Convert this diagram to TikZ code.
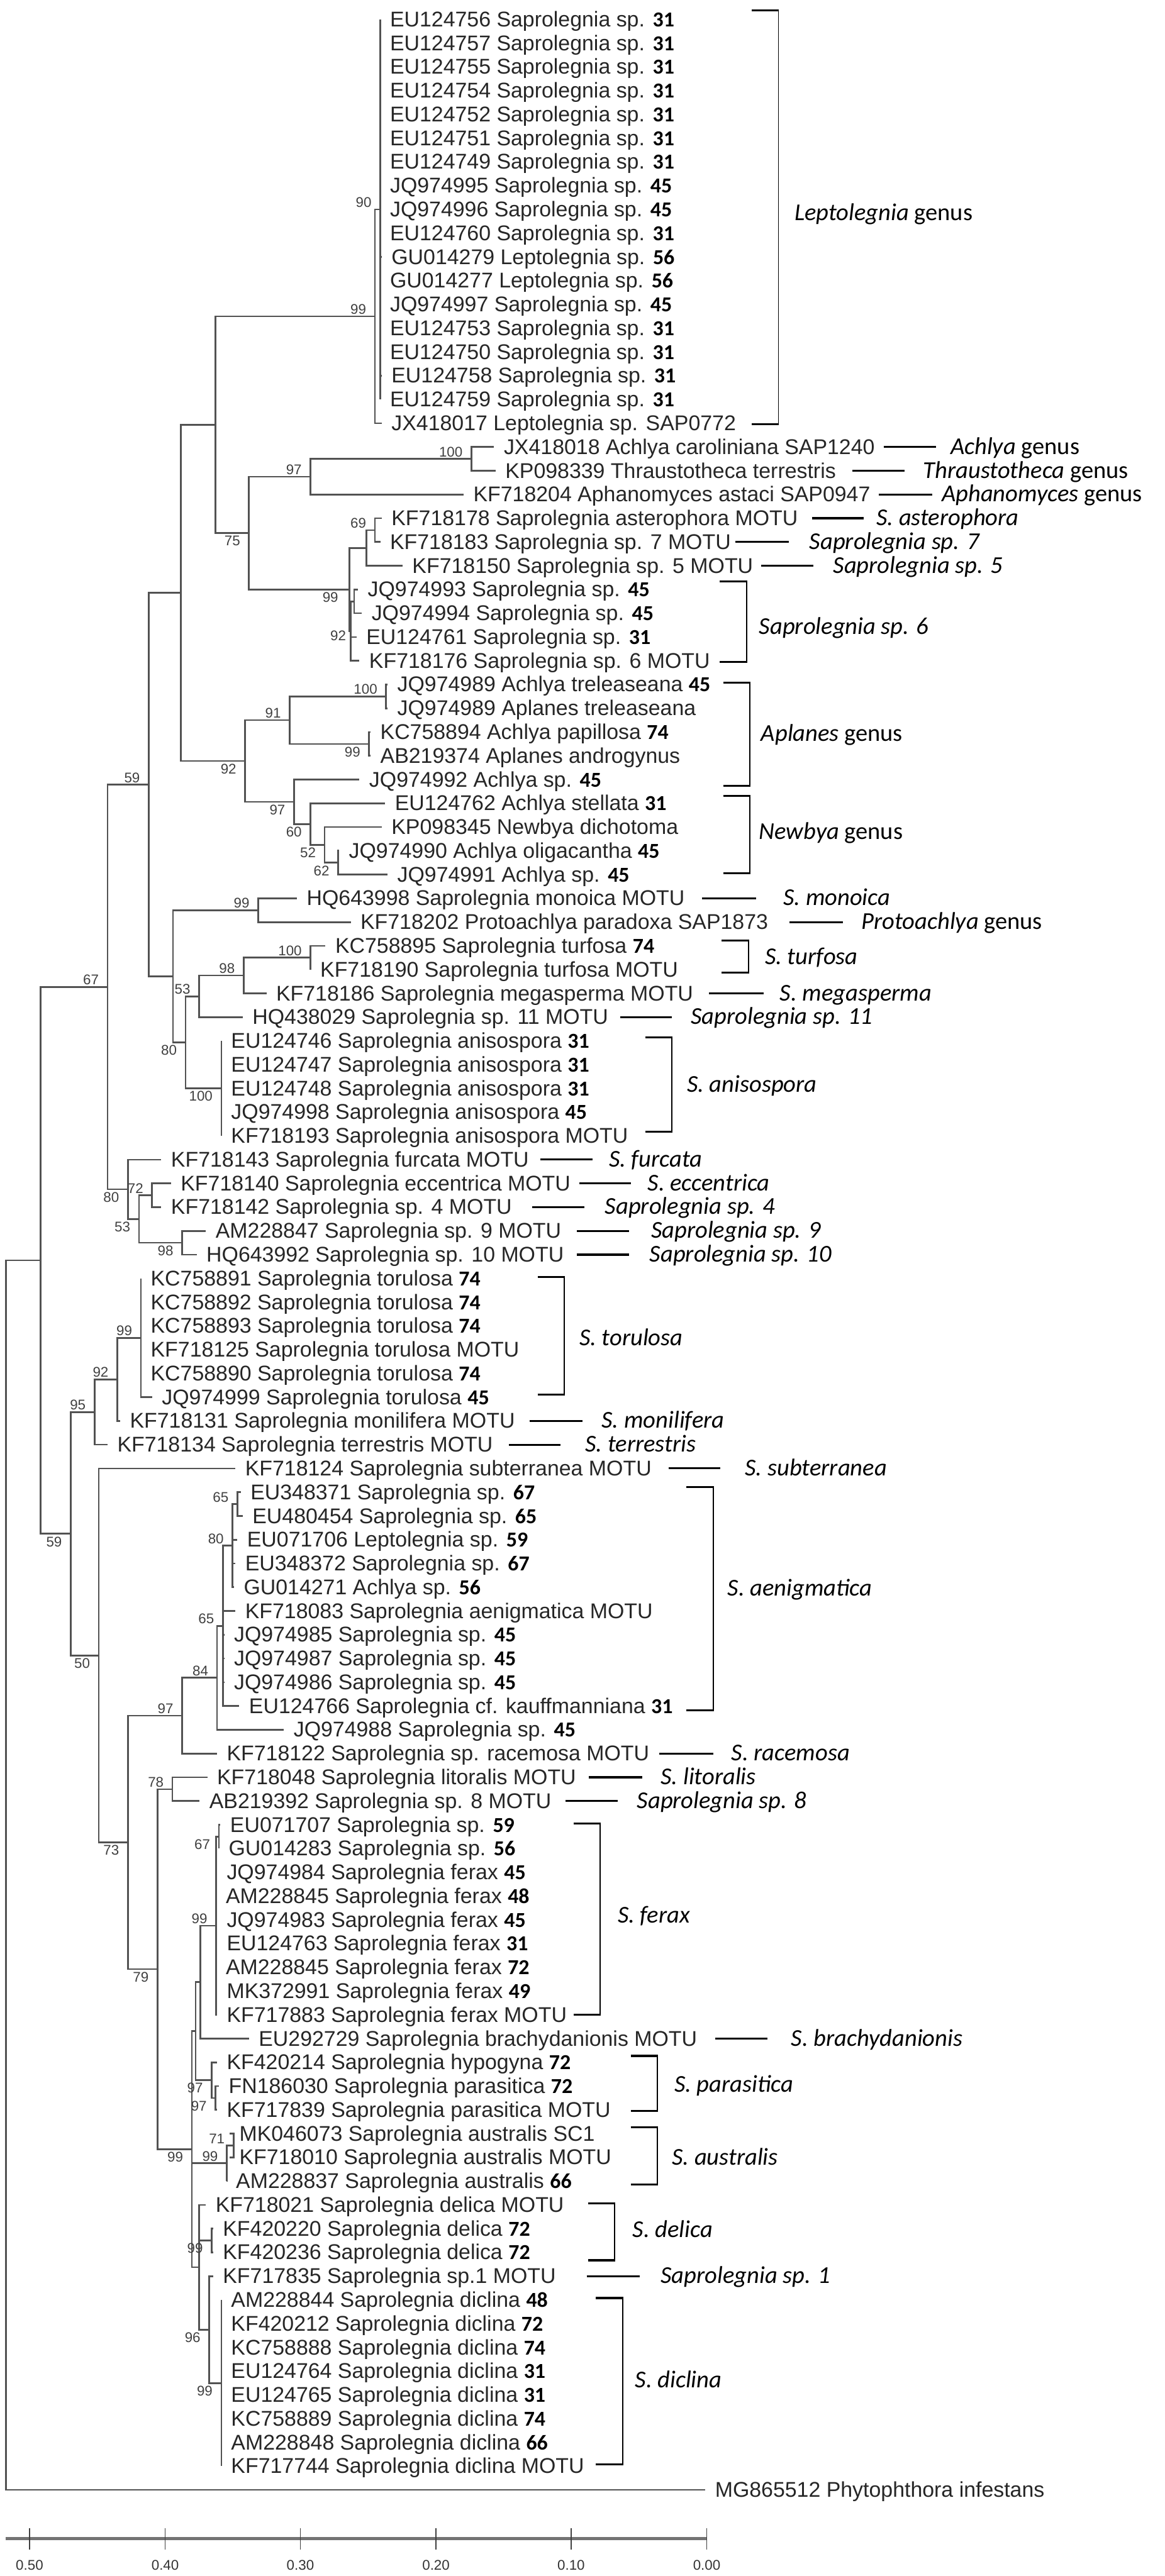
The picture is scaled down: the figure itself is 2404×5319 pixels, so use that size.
\documentclass[tikz,border=0pt]{standalone}
\usepackage{fontspec}
\setmainfont{Liberation Sans}
\newfontfamily\calfont{Carlito}
\usetikzlibrary{calc}
\newcommand\leaffont{\fontsize{44}{50}\selectfont}
\newcommand\bsfont{\fontsize{29}{32}\selectfont}
\newcommand\clfont{\calfont\fontsize{50}{56}\selectfont}
\newcommand\nb[1]{{\calfont\bfseries\color{black}#1}}
\tikzset{
 leaf/.style={anchor=west, inner sep=0pt, font=\leaffont, text=black!85, text height=31pt, text depth=1pt},
 brn/.style={line width=3.5pt, draw=black!68},
 bsA/.style={anchor=south east, inner sep=0pt, font=\bsfont, text=black!75, xshift=-18pt, yshift=4pt},
 bsB/.style={anchor=north east, inner sep=0pt, font=\bsfont, text=black!75, xshift=-18pt, yshift=-6pt},
 bsC/.style={anchor=center, inner sep=0pt, font=\bsfont, text=black!75},
 clk/.style={line width=4pt, draw=black},
 clv/.style={line width=2.5pt, draw=black},
 clab/.style={anchor=west, inner sep=0pt, font=\clfont, text=black, text height=30pt, text depth=0pt},
 sclbar/.style={line width=7pt, draw=black!55},
 scltick/.style={line width=2pt, draw=black!75},
 scllab/.style={anchor=center, inner sep=0pt, font=\bsfont, text=black!80}
}
\newcommand\myleaf[3]{\coordinate (t#1) at (#2,{40+(#1-1)*49.05});
  \node[leaf] (l#1) at ([xshift=20pt]t#1) {#3};}
\newcommand\mynode[4]{\path ($(#3)!0.5!(#4)$) coordinate (#1m);
  \coordinate (#1) at (#2,0 |- #1m);}
\newcommand\mycl[2]{\foreach \kid in {#2}{\draw[brn] (#1) |- (\kid);}}
\newcommand\bsAbove[2]{\node[bsA] (b#1) at (#1) {#2};}
\newcommand\bsBelow[2]{\node[bsB] (b#1) at (#1) {#2};}
\newcommand\mycln[5]{\coordinate (c#1a) at (#2,0 |- t#1);
  \coordinate (c#1b) at (#3,0 |- t#1);
  \draw[clk] (c#1a) -- (c#1b);
  \node[clab] (g#1) at (#4,0 |- t#1) {#5};}
\newcommand\mybrk[7]{\coordinate (#1t) at (#2,#3); \coordinate (#1b) at (#2,#4);
  \draw[clv] (#1t) -- (#1b);
  \draw[clk] ([xshift=-55pt]#1t) -- ([xshift=1.25pt]#1t);
  \draw[clk] ([xshift=-55pt]#1b) -- ([xshift=1.25pt]#1b);
  \node[clab] (#1l) at (#5,#6) {#7};}
\begin{document}
\begin{tikzpicture}[x=1pt,y=-1pt]
\useasboundingbox (0,0) rectangle (2404,5319);
% ---------------- leaves ----------------
\myleaf{1}{785}{EU124756 Saprolegnia sp. \nb{31}}
\myleaf{2}{785}{EU124757 Saprolegnia sp. \nb{31}}
\myleaf{3}{785}{EU124755 Saprolegnia sp. \nb{31}}
\myleaf{4}{785}{EU124754 Saprolegnia sp. \nb{31}}
\myleaf{5}{785}{EU124752 Saprolegnia sp. \nb{31}}
\myleaf{6}{785}{EU124751 Saprolegnia sp. \nb{31}}
\myleaf{7}{785}{EU124749 Saprolegnia sp. \nb{31}}
\myleaf{8}{785}{JQ974995 Saprolegnia sp. \nb{45}}
\myleaf{9}{785}{JQ974996 Saprolegnia sp. \nb{45}}
\myleaf{10}{785}{EU124760 Saprolegnia sp. \nb{31}}
\myleaf{11}{788}{GU014279 Leptolegnia sp. \nb{56}}
\myleaf{12}{785}{GU014277 Leptolegnia sp. \nb{56}}
\myleaf{13}{785}{JQ974997 Saprolegnia sp. \nb{45}}
\myleaf{14}{785}{EU124753 Saprolegnia sp. \nb{31}}
\myleaf{15}{785}{EU124750 Saprolegnia sp. \nb{31}}
\myleaf{16}{788}{EU124758 Saprolegnia sp. \nb{31}}
\myleaf{17}{785}{EU124759 Saprolegnia sp. \nb{31}}
\myleaf{18}{788}{JX418017 Leptolegnia sp. SAP0772}
\myleaf{19}{1020}{JX418018 Achlya caroliniana SAP1240}
\myleaf{20}{1023}{KP098339 Thraustotheca terrestris}
\myleaf{21}{957}{KF718204 Aphanomyces astaci SAP0947}
\myleaf{22}{788}{KF718178 Saprolegnia asterophora MOTU}
\myleaf{23}{785}{KF718183 Saprolegnia sp. 7 MOTU}
\myleaf{24}{831}{KF718150 Saprolegnia sp. 5 MOTU}
\myleaf{25}{739}{JQ974993 Saprolegnia sp. \nb{45}}
\myleaf{26}{747}{JQ974994 Saprolegnia sp. \nb{45}}
\myleaf{27}{736}{EU124761 Saprolegnia sp. \nb{31}}
\myleaf{28}{742}{KF718176 Saprolegnia sp. 6 MOTU}
\myleaf{29}{800}{JQ974989 Achlya treleaseana \nb{45}}
\myleaf{30}{800}{JQ974989 Aplanes treleaseana}
\myleaf{31}{765}{KC758894 Achlya papillosa \nb{74}}
\myleaf{32}{765}{AB219374 Aplanes androgynus}
\myleaf{33}{742}{JQ974992 Achlya sp. \nb{45}}
\myleaf{34}{795}{EU124762 Achlya stellata \nb{31}}
\myleaf{35}{788}{KP098345 Newbya dichotoma}
\myleaf{36}{700}{JQ974990 Achlya oligacantha \nb{45}}
\myleaf{37}{800}{JQ974991 Achlya sp. \nb{45}}
\myleaf{38}{613}{HQ643998 Saprolegnia monoica MOTU}
\myleaf{39}{724}{KF718202 Protoachlya paradoxa SAP1873}
\myleaf{40}{672}{KC758895 Saprolegnia turfosa \nb{74}}
\myleaf{41}{641}{KF718190 Saprolegnia turfosa MOTU}
\myleaf{42}{550}{KF718186 Saprolegnia megasperma MOTU}
\myleaf{43}{501}{HQ438029 Saprolegnia sp. 11 MOTU}
\myleaf{44}{457}{EU124746 Saprolegnia anisospora \nb{31}}
\myleaf{45}{457}{EU124747 Saprolegnia anisospora \nb{31}}
\myleaf{46}{457}{EU124748 Saprolegnia anisospora \nb{31}}
\myleaf{47}{457}{JQ974998 Saprolegnia anisospora \nb{45}}
\myleaf{48}{457}{KF718193 Saprolegnia anisospora MOTU}
\myleaf{49}{333}{KF718143 Saprolegnia furcata MOTU}
\myleaf{50}{353}{KF718140 Saprolegnia eccentrica MOTU}
\myleaf{51}{333}{KF718142 Saprolegnia sp. 4 MOTU}
\myleaf{52}{425}{AM228847 Saprolegnia sp. 9 MOTU}
\myleaf{53}{406}{HQ643992 Saprolegnia sp. 10 MOTU}
\myleaf{54}{291}{KC758891 Saprolegnia torulosa \nb{74}}
\myleaf{55}{291}{KC758892 Saprolegnia torulosa \nb{74}}
\myleaf{56}{291}{KC758893 Saprolegnia torulosa \nb{74}}
\myleaf{57}{291}{KF718125 Saprolegnia torulosa MOTU}
\myleaf{58}{291}{KC758890 Saprolegnia torulosa \nb{74}}
\myleaf{59}{314}{JQ974999 Saprolegnia torulosa \nb{45}}
\myleaf{60}{248}{KF718131 Saprolegnia monilifera MOTU}
\myleaf{61}{222}{KF718134 Saprolegnia terrestris MOTU}
\myleaf{62}{486}{KF718124 Saprolegnia subterranea MOTU}
\myleaf{63}{497}{EU348371 Saprolegnia sp. \nb{67}}
\myleaf{64}{501}{EU480454 Saprolegnia sp. \nb{65}}
\myleaf{65}{490}{EU071706 Leptolegnia sp. \nb{59}}
\myleaf{66}{486}{EU348372 Saprolegnia sp. \nb{67}}
\myleaf{67}{483}{GU014271 Achlya sp. \nb{56}}
\myleaf{68}{486}{KF718083 Saprolegnia aenigmatica MOTU}
\myleaf{69}{463}{JQ974985 Saprolegnia sp. \nb{45}}
\myleaf{70}{463}{JQ974987 Saprolegnia sp. \nb{45}}
\myleaf{71}{463}{JQ974986 Saprolegnia sp. \nb{45}}
\myleaf{72}{494}{EU124766 Saprolegnia cf. kauffmanniana \nb{31}}
\myleaf{73}{586}{JQ974988 Saprolegnia sp. \nb{45}}
\myleaf{74}{448}{KF718122 Saprolegnia sp. racemosa MOTU}
\myleaf{75}{428}{KF718048 Saprolegnia litoralis MOTU}
\myleaf{76}{412}{AB219392 Saprolegnia sp. 8 MOTU}
\myleaf{77}{455}{EU071707 Saprolegnia sp. \nb{59}}
\myleaf{78}{452}{GU014283 Saprolegnia sp. \nb{56}}
\myleaf{79}{448}{JQ974984 Saprolegnia ferax \nb{45}}
\myleaf{80}{446}{AM228845 Saprolegnia ferax \nb{48}}
\myleaf{81}{448}{JQ974983 Saprolegnia ferax \nb{45}}
\myleaf{82}{448}{EU124763 Saprolegnia ferax \nb{31}}
\myleaf{83}{446}{AM228845 Saprolegnia ferax \nb{72}}
\myleaf{84}{448}{MK372991 Saprolegnia ferax \nb{49}}
\myleaf{85}{448}{KF717883 Saprolegnia ferax MOTU}
\myleaf{86}{514}{EU292729 Saprolegnia brachydanionis MOTU}
\myleaf{87}{448}{KF420214 Saprolegnia hypogyna \nb{72}}
\myleaf{88}{452}{FN186030 Saprolegnia parasitica \nb{72}}
\myleaf{89}{448}{KF717839 Saprolegnia parasitica MOTU}
\myleaf{90}{474}{MK046073 Saprolegnia australis SC1}
\myleaf{91}{474}{KF718010 Saprolegnia australis MOTU}
\myleaf{92}{467}{AM228837 Saprolegnia australis \nb{66}}
\myleaf{93}{425}{KF718021 Saprolegnia delica MOTU}
\myleaf{94}{440}{KF420220 Saprolegnia delica \nb{72}}
\myleaf{95}{440}{KF420236 Saprolegnia delica \nb{72}}
\myleaf{96}{440}{KF717835 Saprolegnia sp.1 MOTU}
\myleaf{97}{457}{AM228844 Saprolegnia diclina \nb{48}}
\myleaf{98}{457}{KF420212 Saprolegnia diclina \nb{72}}
\myleaf{99}{457}{KC758888 Saprolegnia diclina \nb{74}}
\myleaf{100}{457}{EU124764 Saprolegnia diclina \nb{31}}
\myleaf{101}{457}{EU124765 Saprolegnia diclina \nb{31}}
\myleaf{102}{457}{KC758889 Saprolegnia diclina \nb{74}}
\myleaf{103}{457}{AM228848 Saprolegnia diclina \nb{66}}
\myleaf{104}{457}{KF717744 Saprolegnia diclina MOTU}
\myleaf{105}{1456}{MG865512 Phytophthora infestans}
% ---------------- internal nodes ----------------
\mynode{L90}{785}{t1}{t17}
\mynode{L99}{774}{L90}{t18}
\mynode{nAT}{973}{t19}{t20}
\mynode{nAA}{641}{nAT}{t21}
\mynode{nAst}{774}{t22}{t23}
\mynode{nS57}{756}{nAst}{t24}
\mynode{nS6a}{731}{t25}{t26}
\mynode{nS6}{724}{nS6a}{t28}
\mynode{n721}{721}{nS57}{nS6}
\mynode{n514}{514}{nAA}{n721}
\mynode{n445}{445}{L99}{n514}
\mynode{nTre}{797}{t29}{t30}
\mynode{nPap}{762}{t31}{t32}
\mynode{n598}{598}{nTre}{nPap}
\mynode{nNx}{698}{t36}{t37}
\mynode{n671}{670}{t35}{nNx}
\mynode{n640}{641}{t34}{n671}
\mynode{n607}{607}{t33}{n640}
\mynode{n506}{506}{n598}{n607}
\mynode{n373}{373}{n445}{n506}
\mynode{nMon}{533}{t38}{t39}
\mynode{nTurf}{641}{t40}{t41}
\mynode{nTm}{503}{nTurf}{t42}
\mynode{n411}{411}{nTm}{t43}
\mynode{nAnis}{457}{t44}{t48}
\mynode{n383}{383}{n411}{nAnis}
\mynode{n357}{357}{nMon}{n383}
\mynode{n307}{307}{n373}{n357}
\mynode{nEcc}{314}{t50}{t51}
\mynode{n910}{376}{t52}{t53}
\mynode{n287}{287}{nEcc}{n910}
\mynode{n264}{264}{t49}{n287}
\mynode{n222}{222}{n307}{n264}
\mynode{nTor}{291}{t54}{t59}
\mynode{n242}{242}{nTor}{t60}
\mynode{n195}{195}{n242}{t61}
\mynode{n65b}{490}{t63}{t64}
\mynode{n80}{480}{n65b}{t67}
\mynode{n458}{460}{n80}{t72}
\mynode{n448}{448}{n458}{t73}
\mynode{n376}{376}{n448}{t74}
\mynode{nLit}{356}{t75}{t76}
\mynode{n67}{452}{t77}{t78}
\mynode{nFx}{446}{n67}{t85}
\mynode{nFb}{414}{nFx}{t86}
\mynode{n8889}{445}{t88}{t89}
\mynode{nPar}{437}{t87}{n8889}
\mynode{n404}{404}{nFb}{nPar}
\mynode{n9091}{482}{t90}{t91}
\mynode{nAus}{468}{n9091}{t92}
\mynode{n9495}{437}{t94}{t95}
\mynode{nDic}{457}{t97}{t104}
\mynode{nSd}{432}{t96}{nDic}
\mynode{nDs}{411}{t93}{nSd}
\mynode{nBig}{396}{n404}{nDs}
\mynode{n325}{325}{nLit}{nBig}
\mynode{n264b}{264}{n376}{n325}
\mynode{n204}{204}{t62}{n264b}
\mynode{n146}{146}{n195}{n204}
\mynode{n84}{84}{n222}{n146}
\mynode{root}{12}{n84}{t105}
% ---------------- branches ----------------
\mycl{L90}{t1,t2,t3,t4,t5,t6,t7,t8,t9,t10,t11,t12,t13,t14,t15,t16,t17}
\mycl{L99}{L90,t18}
\mycl{nAT}{t19,t20}
\mycl{nAA}{nAT,t21}
\mycl{nAst}{t22,t23}
\mycl{nS57}{nAst,t24}
\mycl{nS6a}{t25,t26}
\mycl{nS6}{nS6a,t27,t28}
\mycl{n721}{nS57,nS6}
\mycl{n514}{nAA,n721}
\mycl{n445}{L99,n514}
\mycl{nTre}{t29,t30}
\mycl{nPap}{t31,t32}
\mycl{n598}{nTre,nPap}
\mycl{nNx}{t36,t37}
\mycl{n671}{t35,nNx}
\mycl{n640}{t34,n671}
\mycl{n607}{t33,n640}
\mycl{n506}{n598,n607}
\mycl{n373}{n445,n506}
\mycl{nMon}{t38,t39}
\mycl{nTurf}{t40,t41}
\mycl{nTm}{nTurf,t42}
\mycl{n411}{nTm,t43}
\mycl{nAnis}{t44,t45,t46,t47,t48}
\mycl{n383}{n411,nAnis}
\mycl{n357}{nMon,n383}
\mycl{n307}{n373,n357}
\mycl{nEcc}{t50,t51}
\mycl{n910}{t52,t53}
\mycl{n287}{nEcc,n910}
\mycl{n264}{t49,n287}
\mycl{n222}{n307,n264}
\mycl{nTor}{t54,t55,t56,t57,t58,t59}
\mycl{n242}{nTor,t60}
\mycl{n195}{n242,t61}
\mycl{n65b}{t63,t64}
\mycl{n80}{n65b,t65,t66,t67}
\mycl{n458}{n80,t68,t69,t70,t71,t72}
\mycl{n448}{n458,t73}
\mycl{n376}{n448,t74}
\mycl{nLit}{t75,t76}
\mycl{n67}{t77,t78}
\mycl{nFx}{n67,t79,t80,t81,t82,t83,t84,t85}
\mycl{nFb}{nFx,t86}
\mycl{n8889}{t88,t89}
\mycl{nPar}{t87,n8889}
\mycl{n404}{nFb,nPar}
\mycl{n9091}{t90,t91}
\mycl{nAus}{n9091,t92}
\mycl{n9495}{t94,t95}
\mycl{nDic}{t97,t98,t99,t100,t101,t102,t103,t104}
\mycl{nSd}{t96,nDic}
\mycl{nDs}{t93,n9495,nSd}
\mycl{nBig}{n404,nAus,nDs}
\mycl{n325}{nLit,nBig}
\mycl{n264b}{n376,n325}
\mycl{n204}{t62,n264b}
\mycl{n146}{n195,n204}
\mycl{n84}{n222,n146}
\mycl{root}{n84,t105}
% ---------------- bootstrap values ----------------
\bsAbove{L90}{90} \bsAbove{L99}{99} \bsBelow{n514}{75} \bsAbove{nAA}{97}
\bsAbove{nAT}{100} \bsAbove{nAst}{69}
\node[bsC] (bS6a) at (682,1233) {99};
\node[bsC] (bS6b) at (698,1312) {92};
\bsAbove{n307}{59} \bsAbove{n598}{91} \bsAbove{nTre}{100} \bsBelow{nPap}{99}
\bsBelow{n506}{92} \bsBelow{n607}{97} \bsBelow{n640}{60} \bsBelow{n671}{52}
\bsBelow{nNx}{62}
\bsAbove{n222}{67} \bsAbove{nMon}{99} \bsAbove{nTurf}{100} \bsAbove{nTm}{98}
\bsAbove{n411}{53} \bsBelow{n383}{80} \bsBelow{nAnis}{100}
\bsAbove{nEcc}{72} \bsBelow{n264}{80} \bsBelow{n287}{53} \bsBelow{n910}{98}
\bsBelow{n146}{59} \bsAbove{nTor}{99} \bsAbove{n242}{92} \bsAbove{n195}{95}
\bsBelow{n204}{50}
\bsAbove{n65b}{65} \bsAbove{n80}{80} \bsAbove{n458}{65} \bsAbove{n448}{84}
\bsAbove{n376}{97} \bsBelow{n264b}{73}
\bsAbove{nLit}{78} \bsBelow{n67}{67} \bsAbove{nFx}{99} \bsBelow{n325}{79}
\bsBelow{nPar}{97} \bsBelow{n8889}{97} \bsAbove{n9091}{71} \bsAbove{nAus}{99}
\bsBelow{nBig}{99} \bsBelow{n9495}{99} \bsBelow{nSd}{96} \bsBelow{nDic}{99}
% ---------------- clade brackets ----------------
\mybrk{kLep}{1607}{22}{876}{1640}{440}{\textit{Leptolegnia} genus}
\mybrk{kSsix}{1541}{1200}{1367}{1567}{1295}{\textit{Saprolegnia sp. 6}}
\mybrk{kApl}{1548}{1410}{1622}{1571}{1515}{\textit{Aplanes} genus}
\mybrk{kNew}{1548}{1643}{1803}{1567}{1718}{\textit{Newbya} genus}
\mybrk{kTur}{1545}{1942}{2008}{1579}{1977}{\textit{S. turfosa}}
\mybrk{kAni}{1387}{2142}{2337}{1418}{2240}{\textit{S. anisospora}}
\mybrk{kTor}{1165}{2637}{2880}{1196}{2763}{\textit{S. torulosa}}
\mybrk{kAen}{1472}{3070}{3531}{1502}{3280}{\textit{S. aenigmatica}}
\mybrk{kFer}{1239}{3765}{4160}{1275}{3955}{\textit{S. ferax}}
\mybrk{kPar}{1357}{4245}{4359}{1392}{4305}{\textit{S. parasitica}}
\mybrk{kAus}{1357}{4393}{4511}{1387}{4455}{\textit{S. australis}}
\mybrk{kDel}{1269}{4549}{4667}{1306}{4605}{\textit{S. delica}}
\mybrk{kDic}{1285}{4745}{5088}{1311}{4915}{\textit{S. diclina}}
% ---------------- single clade labels ----------------
\mycln{19}{1824}{1932}{1962}{\textit{Achlya} genus}
\mycln{20}{1760}{1867}{1906}{\textit{Thraustotheca} genus}
\mycln{21}{1814}{1924}{1944}{\textit{Aphanomyces} genus}
\mycln{22}{1676}{1783}{1809}{\textit{S. asterophora}}
\mycln{23}{1518}{1628}{1671}{\textit{Saprolegnia sp. 7}}
\mycln{24}{1571}{1679}{1720}{\textit{Saprolegnia sp. 5}}
\mycln{38}{1449}{1561}{1617}{\textit{S. monoica}}
\mycln{39}{1630}{1740}{1778}{\textit{Protoachlya} genus}
\mycln{42}{1464}{1576}{1610}{\textit{S. megasperma}}
\mycln{43}{1280}{1387}{1426}{\textit{Saprolegnia sp. 11}}
\mycln{49}{1116}{1223}{1257}{\textit{S. furcata}}
\mycln{50}{1196}{1303}{1337}{\textit{S. eccentrica}}
\mycln{51}{1099}{1206}{1249}{\textit{Saprolegnia sp. 4}}
\mycln{52}{1191}{1298}{1344}{\textit{Saprolegnia sp. 9}}
\mycln{53}{1191}{1298}{1341}{\textit{Saprolegnia sp. 10}}
\mycln{60}{1093}{1203}{1242}{\textit{S. monilifera}}
\mycln{61}{1050}{1157}{1208}{\textit{S. terrestris}}
\mycln{62}{1380}{1487}{1538}{\textit{S. subterranea}}
\mycln{74}{1361}{1472}{1510}{\textit{S. racemosa}}
\mycln{75}{1216}{1326}{1364}{\textit{S. litoralis}}
\mycln{76}{1168}{1275}{1315}{\textit{Saprolegnia sp. 8}}
\mycln{86}{1476}{1584}{1633}{\textit{S. brachydanionis}}
\mycln{96}{1211}{1321}{1364}{\textit{Saprolegnia sp. 1}}
% ---------------- scale bar ----------------
\coordinate (sbL) at (12,5242);
\coordinate (sbR) at (1459,5242);
\draw[sclbar] (sbL) -- (sbR);
\foreach \tv/\tx in {0.50/61,0.40/341,0.30/620,0.20/900,0.10/1179,0.00/1459}{
  \draw[scltick] (\tx,5220) -- (\tx,5264);
  \node[scllab] (s\tx) at (\tx,5297) {\tv};
}
\end{tikzpicture}
\end{document}
